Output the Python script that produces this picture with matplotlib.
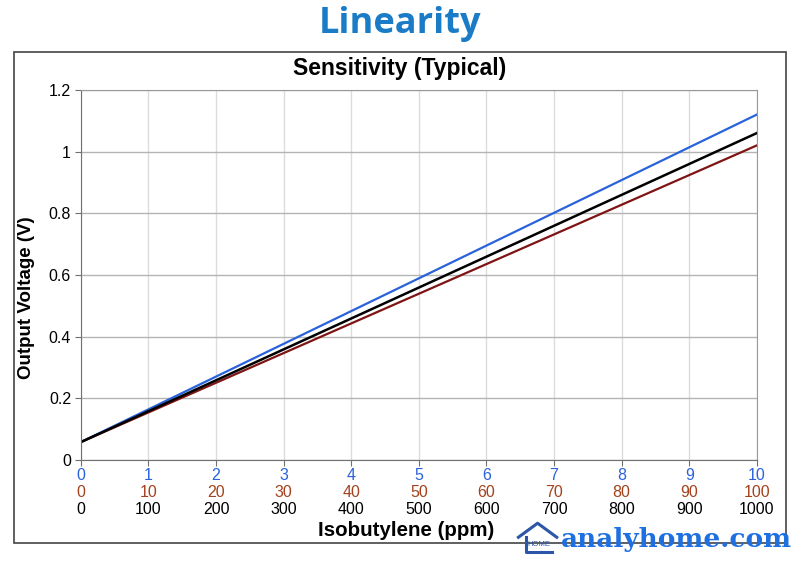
import numpy as np
import matplotlib.pyplot as plt
from matplotlib.patches import Rectangle
from matplotlib.lines import Line2D
from matplotlib.transforms import offset_copy

# concentration axis (ppm of isobutylene) and the three output curves
ppm = [0, 500, 1000]
v_blue = [0.058, 0.589, 1.12]
v_black = [0.058, 0.559, 1.06]
v_brown = [0.058, 0.539, 1.02]

ticks = [0, 100, 200, 300, 400, 500, 600, 700, 800, 900, 1000]
row_blue = ["0", "1", "2", "3", "4", "5", "6", "7", "8", "9", "10"]
row_brown = ["0", "10", "20", "30", "40", "50", "60", "70", "80", "90", "100"]
row_black = ["0", "100", "200", "300", "400", "500", "600", "700", "800", "900", "1000"]
yticks = [0, 0.2, 0.4, 0.6, 0.8, 1, 1.2]
ylabels = ["0", "0.2", "0.4", "0.6", "0.8", "1", "1.2"]

c_blue = "#2a62dc"
c_brown = "#7e1414"
c_brown_txt = "#a3421c"
c_mark = "#1e6fe0"

plt.rcParams['font.family'] = ['Liberation Sans', 'DejaVu Sans']

fig = plt.figure(figsize=(8, 5.62), dpi=100)
ax = fig.add_axes([0.101, 0.1815, 0.845, 0.6585])

# outer frame around the chart
fig.patches.append(Rectangle((0.017, 0.034), 0.965, 0.873, transform=fig.transFigure,
                             fill=False, edgecolor="#444444", linewidth=1.2))

ax.plot(ppm, v_blue, color=c_blue, lw=1.6)
ax.plot(ppm, v_brown, color=c_brown, lw=1.6)
ax.plot(ppm, v_black, color="black", lw=1.8)

ax.set_xlim(0, 1000)
ax.set_ylim(0, 1.2)
ax.set_xticks(ticks)
ax.set_xticklabels([""] * len(ticks))
ax.set_yticks(yticks)
ax.set_yticklabels(ylabels, fontsize=11.5)

ax.yaxis.grid(True, color="#b4b4b4", lw=1)
ax.xaxis.grid(True, color="#dcdcdc", lw=1)
ax.set_axisbelow(True)
for s in ax.spines.values():
    s.set_color("#9a9a9a")
ax.spines['left'].set_color("#707070")
ax.spines['bottom'].set_color("#707070")
ax.tick_params(axis='both', length=4, color="#707070", pad=3)

# three rows of x tick labels
trans = ax.get_xaxis_transform()
for rows, col, dy in [(row_blue, c_blue, -16), (row_brown, c_brown_txt, -33), (row_black, "black", -50)]:
    tr = offset_copy(trans, fig=fig, x=0, y=dy, units='dots')
    for t, lab in zip(ticks, rows):
        ax.text(t, 0, lab, transform=tr, color=col, fontsize=11.5, ha='center', va='center')

ax.text(0.481, -0.19, "Isobutylene (ppm)", transform=ax.transAxes, ha='center', va='center',
        fontsize=14.8, fontweight='bold')
fig.text(0.033, 0.47, "Output Voltage (V)", rotation=90, ha='center', va='center',
         fontsize=13.5, fontweight='bold')

fig.text(0.5, 0.879, "Sensitivity (Typical)", ha='center', va='center', fontsize=16.5, fontweight='bold')
fig.text(0.5, 0.957, "Linearity", ha='center', va='center', fontsize=26, fontweight='bold',
         color="#1a7cc6", family=['Open Sans', 'DejaVu Sans'])

# watermark: small house outline + site name
fig.lines.append(Line2D([0.648, 0.672, 0.696], [0.044, 0.069, 0.044], transform=fig.transFigure,
                        color="#2c56a8", lw=2.2))
fig.lines.append(Line2D([0.657, 0.657, 0.69], [0.044, 0.018, 0.018], transform=fig.transFigure,
                        color="#2c56a8", lw=2.2))
fig.text(0.674, 0.031, "HOME", ha='center', va='center', fontsize=5.5, color="#2c56a8")
fig.text(0.99, 0.04, "analyhome.com", ha='right', va='center', fontsize=19, fontweight='bold',
         color=c_mark, family=['DejaVu Serif'])

fig.savefig("out.png", dpi=100)
